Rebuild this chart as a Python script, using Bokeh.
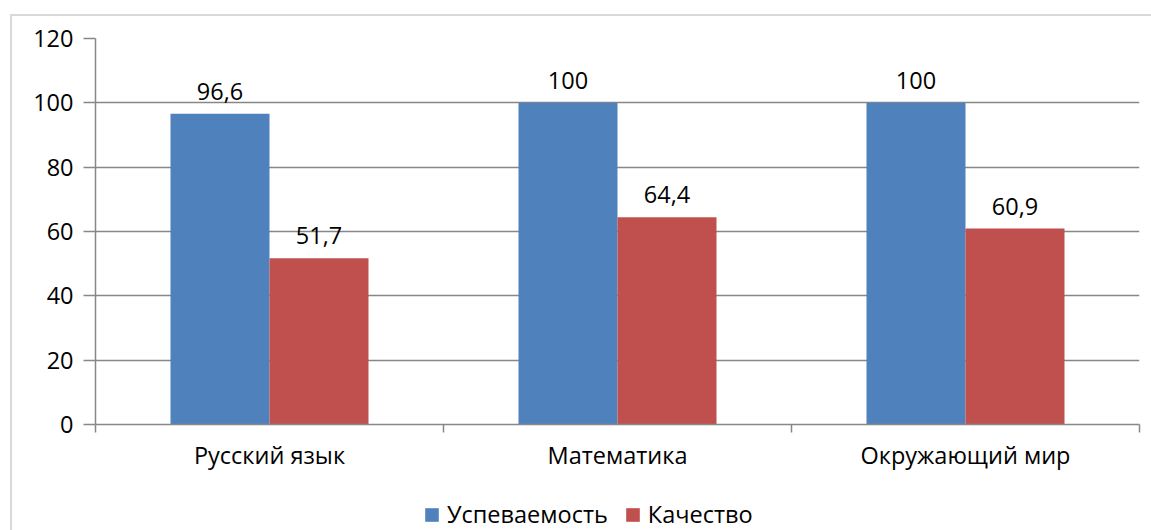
from bokeh.plotting import figure
from bokeh.layouts import column
from bokeh.models import (ColumnDataSource, FixedTicker, Legend, LegendItem, LabelSet, Range1d)
from bokeh.core.properties import value
from bokeh.embed import file_html
from bokeh.resources import INLINE

categories = ["Русский язык", "Математика", "Окружающий мир"]
uspevaemost = [96.6, 100, 100]
kachestvo = [51.7, 64.4, 60.9]
labels_u = ["96,6", "100", "100"]
labels_k = ["51,7", "64,4", "60,9"]
series_names = ["Успеваемость", "Качество"]
y_ticks = [0, 20, 40, 60, 80, 100, 120]

BLUE = "#4F81BD"
RED = "#C0504D"
GRID = "#878787"
FONT = "Open Sans"
FS = "23.5px"

W = 1139
H1, H2 = 470, 44

p = figure(width=W, height=H1, output_backend="svg", toolbar_location=None,
           x_range=Range1d(0, len(categories)), y_range=Range1d(0, 120),
           min_border_left=83, min_border_right=12, min_border_top=22, min_border_bottom=62)
p.outline_line_color = None
p.background_fill_color = "white"
p.border_fill_color = "white"

bw = 0.2845
xs = list(range(len(categories)))
src = ColumnDataSource(dict(
    xu=[i + 0.5 - bw / 2 for i in xs], xk=[i + 0.5 + bw / 2 for i in xs],
    u=uspevaemost, k=kachestvo, lu=labels_u, lk=labels_k))

p.vbar(x="xu", top="u", width=bw, source=src, fill_color=BLUE, line_color=None)
p.vbar(x="xk", top="k", width=bw, source=src, fill_color=RED, line_color=None)

for xcol, ycol, tcol in (("xu", "u", "lu"), ("xk", "k", "lk")):
    ls = LabelSet(x=xcol, y=ycol, text=tcol, source=src, text_align="center",
                  text_baseline="alphabetic", y_offset=14, text_font=value(FONT),
                  text_font_size=value(FS), text_color="black")
    p.add_layout(ls)

# y axis
p.yaxis.ticker = FixedTicker(ticks=y_ticks)
p.yaxis.axis_line_color = GRID
p.yaxis.axis_line_width = 1.5
p.yaxis.major_tick_line_color = GRID
p.yaxis.major_tick_line_width = 1.5
p.yaxis.major_tick_out = 12
p.yaxis.major_tick_in = 0
p.yaxis.minor_tick_line_color = None
p.yaxis.major_label_standoff = 10
p.yaxis.major_label_text_font = FONT
p.yaxis.major_label_text_font_size = FS
p.yaxis.major_label_text_color = "black"

# x axis
p.xaxis.ticker = FixedTicker(ticks=[i + 0.5 for i in xs], minor_ticks=list(range(len(categories) + 1)))
p.xaxis.major_label_overrides = {i + 0.5: c for i, c in zip(xs, categories)}
p.xaxis.axis_line_color = GRID
p.xaxis.axis_line_width = 1.5
p.xaxis.major_tick_line_color = None
p.xaxis.minor_tick_line_color = GRID
p.xaxis.minor_tick_line_width = 1.5
p.xaxis.minor_tick_out = 8
p.xaxis.minor_tick_in = 0
p.xaxis.major_label_standoff = 6
p.xaxis.major_label_text_font = FONT
p.xaxis.major_label_text_font_size = FS
p.xaxis.major_label_text_color = "black"

p.xgrid.grid_line_color = None
p.ygrid.ticker = FixedTicker(ticks=y_ticks)
p.ygrid.grid_line_color = GRID
p.ygrid.grid_line_width = 1.5

# legend strip (its own small figure; the series glyphs lie outside its view)
pl = figure(width=W, height=H2, output_backend="svg", toolbar_location=None,
            x_range=Range1d(50.3, 50.7), y_range=Range1d(1000.3, 1000.7),
            min_border_left=83, min_border_right=12, min_border_top=0, min_border_bottom=0)
pl.outline_line_color = None
pl.axis.visible = False
pl.grid.visible = False
pl.background_fill_color = "white"
pl.border_fill_color = "white"
lu = pl.vbar(x="xu", top="u", width=bw, source=src, fill_color=BLUE, line_color=None)
lk = pl.vbar(x="xk", top="k", width=bw, source=src, fill_color=RED, line_color=None)

legend = Legend(items=[LegendItem(label=series_names[0], renderers=[lu]),
                       LegendItem(label=series_names[1], renderers=[lk])],
                orientation="horizontal", location=(328, 0),
                glyph_width=17, glyph_height=17, label_standoff=7, spacing=16,
                padding=0, margin=0, border_line_color=None, background_fill_alpha=0,
                label_text_font=FONT, label_text_font_size=FS, label_text_color="black")
pl.add_layout(legend, "center")

layout = column(p, pl, spacing=0)
layout.styles = {"margin-left": "10px", "margin-top": "14px",
                 "border-left": "2px solid #d9d9d9", "border-top": "2px solid #d9d9d9"}

open("out.html", "w").write(file_html(layout, INLINE))
